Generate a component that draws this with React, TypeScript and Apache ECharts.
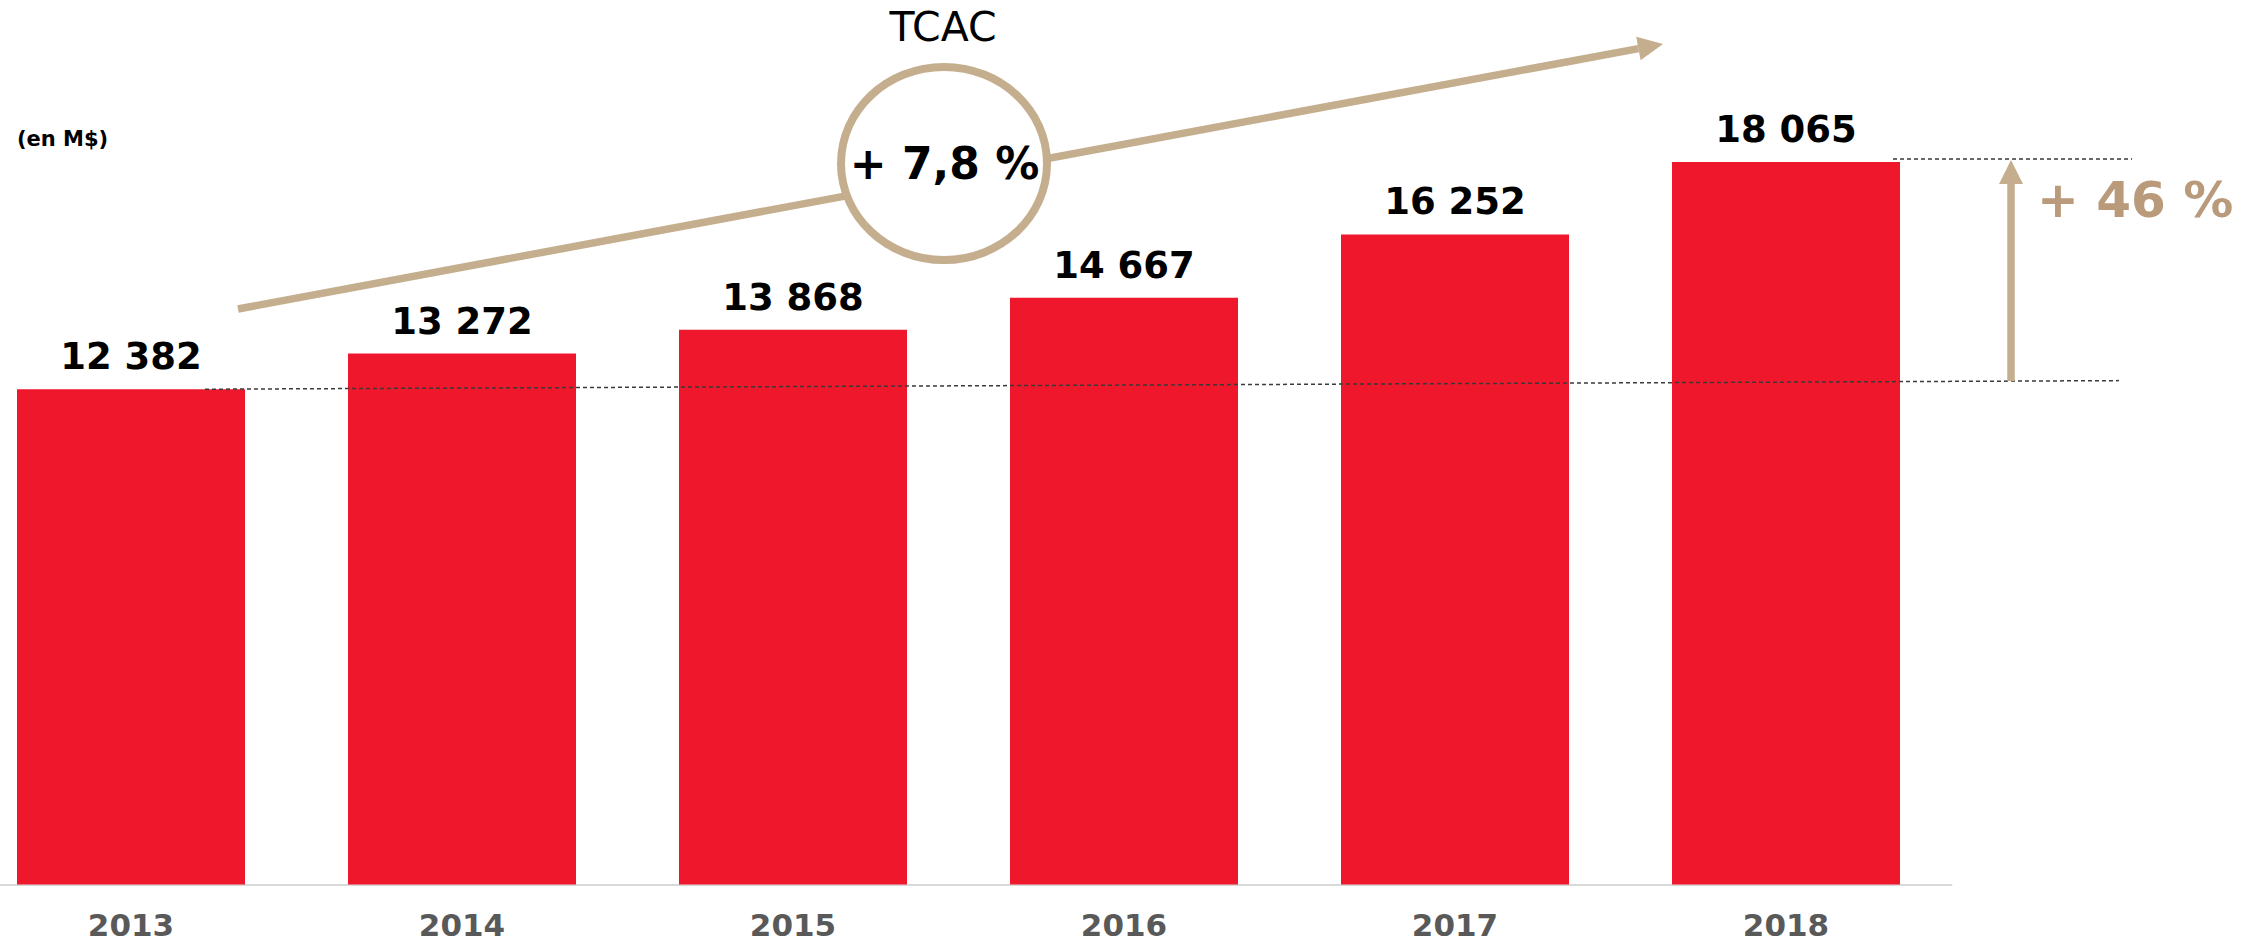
import React, { useEffect, useRef } from "react";
import * as echarts from "echarts";

const years = ["2013", "2014", "2015", "2016", "2017", "2018"];
const revenues = [12382, 13272, 13868, 14667, 16252, 18065];
const unitLabel = "(en M$)";
const cagrTitle = "TCAC";
const cagrLabel = "+ 7,8 %";
const growthLabel = "+ 46 %";

const FONT = "DejaVu Sans";
const TAN = "#C4AE8E";
const TAN_TEXT = "#B99A7B";
const DASH = "#3A3A3A";

const fmt = (v: number) => String(v).replace(/\B(?=(\d{3})+(?!\d))/g, " ");

export default function App() {
  const ref = useRef<HTMLDivElement>(null);
  useEffect(() => {
    if (!ref.current) return;
    const chart = echarts.init(ref.current, null, { renderer: "svg" });
    chart.setOption({
      animation: false,
      backgroundColor: "#ffffff",
      grid: {
        left: -34.5,
        right: 307.5,
        top: 4.5,
        bottom: 58.5,
        containLabel: false,
        outerBoundsMode: "none",
      },
      xAxis: {
        type: "category",
        data: years,
        axisTick: { show: false },
        axisLine: { show: true, lineStyle: { color: "#D9D9D9", width: 2 } },
        axisLabel: {
          margin: 26,
          lineHeight: 28,
          fontFamily: FONT,
          fontWeight: "bold",
          fontSize: 31,
          color: "#595959",
        },
      },
      yAxis: {
        type: "value",
        min: 0,
        max: 22000,
        show: false,
        splitLine: { show: false },
      },
      series: [
        {
          type: "bar",
          data: revenues,
          barWidth: 228,
          itemStyle: { color: "#EF172B" },
          label: {
            show: true,
            position: "top",
            distance: 14,
            fontFamily: FONT,
            fontWeight: "bold",
            fontSize: 37,
            color: "#000000",
            formatter: (p: any) => fmt(p.value),
          },
        },
      ],
    });

    const yFirst = chart.convertToPixel({ seriesIndex: 0 }, [0, revenues[0]])[1];
    const yLast = chart.convertToPixel({ seriesIndex: 0 }, [years.length - 1, revenues[revenues.length - 1]])[1];

    // trend arrow geometry
    const sx = 238, sy = 309, tx = 1663, ty = 44;
    const dx = tx - sx, dy = ty - sy;
    const len = Math.sqrt(dx * dx + dy * dy);
    const ux = dx / len, uy = dy / len;
    const headL = 25, headW = 12;
    const bx = tx - headL * ux, by = ty - headL * uy;
    const nx = -uy, ny = ux;

    const lowL = 205, lowR = 2119, lowDrop = 8.6;
    const arrowX = 2011;
    const arrowBottom = yFirst - lowDrop * (arrowX - lowL) / (lowR - lowL);
    const upperY = yLast - 3;

    chart.setOption({
      graphic: [
        {
          type: "line",
          shape: { x1: lowL, y1: yFirst, x2: lowR, y2: yFirst - lowDrop },
          style: { stroke: DASH, lineWidth: 1.5, lineDash: [4, 3] },
          z: 100,
        },
        {
          type: "line",
          shape: { x1: 1893, y1: upperY, x2: 2132, y2: upperY },
          style: { stroke: DASH, lineWidth: 1.5, lineDash: [4, 3] },
          z: 100,
        },
        {
          type: "line",
          shape: { x1: sx, y1: sy, x2: bx, y2: by },
          style: { stroke: TAN, lineWidth: 7.5 },
          z: 100,
        },
        {
          type: "polygon",
          shape: {
            points: [
              [tx, ty],
              [bx + headW * nx, by + headW * ny],
              [bx - headW * nx, by - headW * ny],
            ],
          },
          style: { fill: TAN },
          z: 100,
        },
        {
          type: "ellipse",
          shape: { cx: 944, cy: 163.5, rx: 103, ry: 96.5 },
          style: { fill: "#ffffff", stroke: TAN, lineWidth: 8 },
          z: 101,
        },
        {
          type: "text",
          x: 944.5,
          y: 163,
          style: {
            text: cagrLabel,
            fontFamily: FONT,
            fontWeight: "bold",
            fontSize: 44,
            fill: "#000000",
            align: "center",
            verticalAlign: "middle",
          },
          z: 102,
        },
        {
          type: "text",
          x: 943,
          y: 27,
          style: {
            text: cagrTitle,
            fontFamily: FONT,
            fontSize: 41,
            fill: "#000000",
            align: "center",
            verticalAlign: "middle",
          },
          z: 102,
        },
        {
          type: "line",
          shape: { x1: arrowX, y1: arrowBottom, x2: arrowX, y2: upperY + 24 },
          style: { stroke: TAN, lineWidth: 7.5 },
          z: 100,
        },
        {
          type: "polygon",
          shape: {
            points: [
              [arrowX, upperY + 1],
              [arrowX - 12, upperY + 25],
              [arrowX + 12, upperY + 25],
            ],
          },
          style: { fill: TAN },
          z: 100,
        },
        {
          type: "text",
          x: 2037,
          y: 200,
          style: {
            text: growthLabel,
            fontFamily: FONT,
            fontWeight: "bold",
            fontSize: 50,
            fill: TAN_TEXT,
            align: "left",
            verticalAlign: "middle",
          },
          z: 102,
        },
        {
          type: "text",
          x: 17,
          y: 139,
          style: {
            text: unitLabel,
            fontFamily: FONT,
            fontWeight: "bold",
            fontSize: 21,
            fill: "#000000",
            align: "left",
            verticalAlign: "middle",
          },
          z: 102,
        },
      ],
    });

    return () => chart.dispose();
  }, []);
  return (
    <div
      ref={ref}
      style={{ position: "absolute", left: 0, top: 0, width: 2259, height: 943 }}
    />
  );
}
